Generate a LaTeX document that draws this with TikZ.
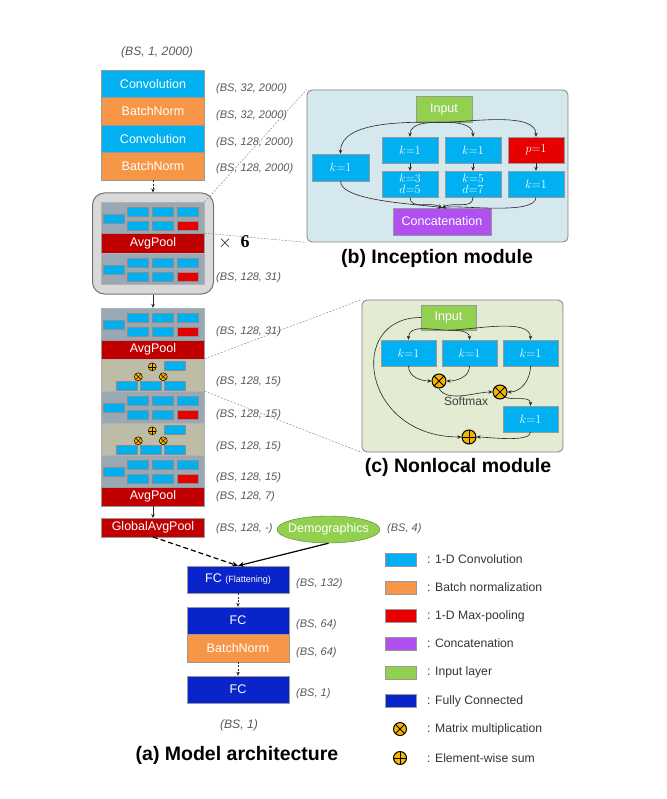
\documentclass[tikz,border=0pt]{standalone}
\usepackage[no-math]{fontspec}
\setmainfont{Liberation Sans}
\newfontfamily\serifsix{Liberation Serif}
\usetikzlibrary{shapes.geometric,arrows.meta,positioning,calc}
\definecolor{convc}{HTML}{00B0F0}
\definecolor{bnc}{HTML}{F79646}
\definecolor{poolc}{HTML}{C00000}
\definecolor{maxc}{HTML}{E60000}
\definecolor{catc}{HTML}{B050F0}
\definecolor{inc}{HTML}{92D050}
\definecolor{fcc}{HTML}{0A24CC}
\definecolor{panb}{HTML}{D5E8EE}
\definecolor{panc}{HTML}{E3EBD2}
\definecolor{repc}{HTML}{D9D9D9}
\definecolor{incg}{HTML}{98A8B5}
\definecolor{nlg}{HTML}{BDBCA6}
\definecolor{opc}{HTML}{F5B400}
\definecolor{shpc}{HTML}{595959}

\newcommand{\mulmark}[2]{%
  \draw[fill=opc, line width=0.5pt] #1 circle (#2);
  \draw[line width=0.5pt] #1 +(-0.7*#2,-0.7*#2) -- +(0.7*#2,0.7*#2) +(-0.7*#2,0.7*#2) -- +(0.7*#2,-0.7*#2);}
\newcommand{\addmark}[2]{%
  \draw[fill=opc, line width=0.5pt] #1 circle (#2);
  \draw[line width=0.5pt] #1 +(-#2,0) -- +(#2,0) +(0,-#2) -- +(0,#2);}
% cells inside a small inception / nonlocal block
\newcommand{\incparts}[1]{%
  \begin{scope}[shift={(#1.north west)}]
    \path[minicell] (2,-12) rectangle (23,-21);
    \path[minicell] (26,-5) rectangle (47,-14);
    \path[minicell] (51,-5) rectangle (72,-14);
    \path[minicell] (76,-5) rectangle (97,-14);
    \path[minicell] (26,-19) rectangle (47,-28);
    \path[minicell] (51,-19) rectangle (72,-28);
    \path[minicell=maxc] (76,-19) rectangle (97,-28);
  \end{scope}}
\newcommand{\nlparts}[1]{%
  \begin{scope}[shift={(#1.north west)}]
    \path[minicell] (63,-2) rectangle (84,-11);
    \path[minicell] (15,-22) rectangle (36,-31);
    \path[minicell] (39,-22) rectangle (60,-31);
    \path[minicell] (63,-22) rectangle (84,-31);
    \addmark{(51,-8)}{4pt}
    \mulmark{(37,-18)}{4pt}
    \mulmark{(62,-18)}{4pt}
  \end{scope}}

\begin{document}
\begin{tikzpicture}[x=1pt, y=1pt,
  box/.style={rectangle, draw=black!40, fill=#1, text=white, minimum width=103pt, minimum height=27.5pt, inner sep=1pt, font=\fontsize{12.5}{14}\selectfont},
  bar/.style={box=poolc, minimum height=19.5pt},
  cell/.style={rectangle, draw=black!40, fill=#1, text=white, minimum width=56pt, minimum height=26pt, inner sep=1pt, align=center, font=\fontsize{12.5}{11}\selectfont},
  shp/.style={anchor=west, inner sep=0pt, text=shpc, font=\fontsize{11}{12}\selectfont\itshape},
  bigshp/.style={shp, anchor=center, font=\fontsize{12.2}{14}\selectfont\itshape},
  ttl/.style={inner sep=0pt, font=\fontsize{19.5}{22}\selectfont\bfseries},
  panel/.style={rectangle, draw=black!50, fill=#1, rounded corners=5pt, line width=0.8pt},
  swatch/.style={rectangle, draw=black!40, fill=#1, minimum width=31pt, minimum height=13pt, inner sep=0pt},
  legtxt/.style={anchor=west, inner sep=0pt, text=black!80, font=\fontsize{12.2}{14}\selectfont},
  minicell/.style={draw=black!45, line width=0.4pt, fill=#1},
  minicell/.default=convc,
  incmini/.style={rectangle, draw=black!30, fill=incg, minimum width=103pt, minimum height=32pt, inner sep=0pt},
  nlmini/.style={rectangle, draw=black!30, fill=nlg, minimum width=103pt, minimum height=32pt, inner sep=0pt},
  mulop/.style={circle, draw, line width=1pt, fill=opc, minimum size=#1, inner sep=0pt,
    path picture={\draw[line width=1pt] (path picture bounding box.north west) -- (path picture bounding box.south east)
      (path picture bounding box.north east) -- (path picture bounding box.south west);}},
  sumop/.style={circle, draw, line width=1pt, fill=opc, minimum size=#1, inner sep=0pt,
    path picture={\draw[line width=1pt] (path picture bounding box.north) -- (path picture bounding box.south)
      (path picture bounding box.west) -- (path picture bounding box.east);}},
  arr/.style={-{Stealth[length=4pt,width=3.5pt]}, black!85, line width=0.6pt},
  darr/.style={arr, dash pattern=on 2pt off 1.5pt},
  fat/.style={-{Stealth[length=6pt,width=5pt]}, black, line width=1.2pt},
  zoomln/.style={black!45, line width=0.5pt, dash pattern=on 2pt off 1.5pt}
]
  \useasboundingbox (0,0) rectangle (666,-799);

  % (a) model architecture
  \node[bigshp] (s0) at (157,-52) {(BS, 1, 2000)};
  \node[box=convc] (conv1) at (153,-83.75) {Convolution};
  \node[box=bnc] (bn1) at (153,-111.25) {BatchNorm};
  \node[box=convc] (conv2) at (153,-138.75) {Convolution};
  \node[box=bnc] (bn2) at (153,-166.25) {BatchNorm};
  \node[shp] (s1) at (216,-89) {(BS, 32, 2000)};
  \node[shp] (s2) at (216,-116) {(BS, 32, 2000)};
  \node[shp] (s3) at (216,-143) {(BS, 128, 2000)};
  \node[shp] (s4) at (216,-169) {(BS, 128, 2000)};

  \node[rectangle, rounded corners=12pt, draw=black!55, fill=repc, line width=1pt, minimum width=121pt, minimum height=101pt] (rep) at (153,-243.5) {};
  \node[incmini, minimum height=31pt] (rinc1) at (153,-217.5) {};
  \node[bar, minimum height=20pt] (rpool) at (153,-243) {AvgPool};
  \node[incmini, minimum height=31pt] (rinc2) at (153,-268.5) {};
  \incparts{rinc1}
  \incparts{rinc2}
  \node[inner sep=0pt, font=\fontsize{18}{20}\selectfont] (times) at (234,-242) {$\times$\enspace{\serifsix\bfseries 6}};
  \node[shp] (s5) at (216,-278) {(BS, 128, 31)};

  \node[incmini] (inc1) at (153,-324) {};
  \node[bar, minimum height=19pt] (pool2) at (153,-349.5) {AvgPool};
  \node[nlmini] (nl1) at (153,-375) {};
  \node[incmini] (inc2) at (153,-407) {};
  \node[nlmini] (nl2) at (153,-439) {};
  \node[incmini] (inc3) at (153,-471) {};
  \node[bar, minimum height=19pt] (pool3) at (153,-496.5) {AvgPool};
  \node[bar, minimum height=18.5pt] (gap) at (153,-527.5) {GlobalAvgPool};
  \incparts{inc1}
  \incparts{inc2}
  \incparts{inc3}
  \nlparts{nl1}
  \nlparts{nl2}
  \node[shp] (s6) at (216,-332) {(BS, 128, 31)};
  \node[shp] (s7) at (216,-382) {(BS, 128, 15)};
  \node[shp] (s8) at (216,-415) {(BS, 128, 15)};
  \node[shp] (s9) at (216,-447) {(BS, 128, 15)};
  \node[shp] (s10) at (216,-478) {(BS, 128, 15)};
  \node[shp] (s11) at (216,-497) {(BS, 128, 7)};
  \node[shp] (s12) at (216,-529) {(BS, 128, -)};

  \node[ellipse, draw=inc!60!black, fill=inc, text=white, inner xsep=-8pt, inner ysep=2pt, minimum width=103pt, minimum height=27pt, font=\fontsize{12.5}{14}\selectfont] (demo) at (328.5,-529.5) {Demographics};
  \node[shp] (s13) at (387,-529) {(BS, 4)};

  \node[box=fcc, minimum width=102pt, minimum height=27pt] (fc1) at (238,-579.5) {FC {\fontsize{9}{10}\selectfont (Flattening)}};
  \node[box=fcc, minimum width=102pt, minimum height=27pt] (fc2) at (238,-620.5) {FC};
  \node[box=bnc, minimum width=102pt, minimum height=27.5pt] (bn3) at (238,-648) {BatchNorm};
  \node[box=fcc, minimum width=102pt, minimum height=27pt] (fc3) at (238,-689.5) {FC};
  \node[shp] (s14) at (296,-584) {(BS, 132)};
  \node[shp] (s15) at (296,-625) {(BS, 64)};
  \node[shp] (s16) at (296,-653) {(BS, 64)};
  \node[shp] (s17) at (296,-694) {(BS, 1)};
  \node[bigshp] (s18) at (239,-725) {(BS, 1)};
  \node[ttl] (ttlA) at (237,-755) {(a) Model architecture};

  \draw[darr] (bn2) -- (rep);
  \draw[arr] (rep) -- (inc1);
  \draw[arr] (pool3) -- (gap);
  \draw[fat, dash pattern=on 5pt off 3pt] (gap.south) -- (fc1.north);
  \draw[fat] (demo.south) -- (fc1.north);
  \draw[darr] (fc1) -- (fc2);
  \draw[darr] (bn3) -- (fc3);

  % (b) inception module
  \node[panel=panb, minimum width=261pt, minimum height=152pt] (panB) at (437.5,-166) {};
  \node[cell=inc] (inB) at (444,-109) {Input};
  \node[cell=convc, minimum width=57pt, minimum height=27pt] (b1) at (340.5,-167.5) {$k{=}1$};
  \node[cell=convc] (b2) at (410,-150) {$k{=}1$};
  \node[cell=convc] (b2d) at (410,-184) {$k{=}3$\\$d{=}5$};
  \node[cell=convc] (b3) at (473,-150) {$k{=}1$};
  \node[cell=convc] (b3d) at (473,-184) {$k{=}5$\\$d{=}7$};
  \node[cell=maxc] (b4) at (536,-150) {$p{=}1$};
  \node[cell=convc] (b4d) at (536,-184) {$k{=}1$};
  \node[cell=catc, minimum width=98pt, minimum height=27pt] (cat) at (442,-221.5) {Concatenation};
  \node[ttl] (ttlB) at (437,-258) {(b) Inception module};

  \draw[arr] (inB.south) to[out=180,in=90,looseness=0.8] (b1.north);
  \draw[arr] (inB.south) to[out=180,in=90] (b2.north);
  \draw[arr] (inB.south) to[out=0,in=90] (b3.north);
  \draw[arr] (inB.south) to[out=0,in=90,looseness=0.7] (b4.north);
  \draw[arr] (b2) -- (b2d);
  \draw[arr] (b3) -- (b3d);
  \draw[arr] (b4) -- (b4d);
  \draw[arr] (b1.south) to[out=-90,in=170,looseness=0.5] (cat.north);
  \draw[arr] (b2d.south) to[out=-90,in=150] (cat.north);
  \draw[arr] (b3d.south) to[out=-90,in=30] (cat.north);
  \draw[arr] (b4d.south) to[out=-90,in=10,looseness=0.5] (cat.north);

  % (c) nonlocal module
  \node[panel=panc, minimum width=201pt, minimum height=152pt] (panC) at (462.5,-376) {};
  \node[cell=inc, minimum width=55pt, minimum height=25pt] (inC) at (448.5,-317.5) {Input};
  \node[cell=convc, minimum width=55pt] (c1) at (408.5,-353) {$k{=}1$};
  \node[cell=convc, minimum width=55pt] (c2) at (469.5,-353) {$k{=}1$};
  \node[cell=convc, minimum width=55pt] (c3) at (530.5,-353) {$k{=}1$};
  \node[mulop=14pt] (mul1) at (439,-381) {};
  \node[mulop=14pt] (mul2) at (500,-392) {};
  \node[inner sep=0pt, text=black!75, font=\fontsize{12}{14}\selectfont] (soft) at (466,-401) {Softmax};
  \node[cell=convc, minimum width=55pt] (c4) at (530.5,-419) {$k{=}1$};
  \node[sumop=14pt] (sum1) at (469,-437) {};
  \node[ttl] (ttlC) at (458,-467) {(c) Nonlocal module};

  \draw[arr] (inC.south) to[out=180,in=90] (c1.north);
  \draw[arr] (inC.south) to[out=0,in=90] (c2.north);
  \draw[arr] (inC.south) to[out=0,in=90,looseness=0.7] (c3.north);
  \draw[arr] (c1.south) to[out=-90,in=180] (mul1.west);
  \draw[arr] (c2.south) to[out=-90,in=0] (mul1.east);
  \draw[arr] (mul1.south) to[out=-60,in=180,looseness=0.8] (mul2.west);
  \draw[arr] (c3.south) to[out=-90,in=0] (mul2.east);
  \draw[arr] (mul2.south east) to[out=-20,in=90] (c4.north);
  \draw[arr] (c4.south) to[out=-90,in=0,looseness=0.5] (sum1.east);
  \draw[arr] (inC.west) .. controls +(-75,0) and +(-100,0) .. (sum1.west);

  % zoom lines
  \draw[zoomln] (rinc1.north east) -- (panB.north west);
  \draw[zoomln] (rinc1.south east) -- (panB.south west);
  \draw[zoomln] (nl1.north east) -- (panC.north west);
  \draw[zoomln] (nl1.south east) -- (panC.south west);

  % legend
  \node[swatch=convc] (l1) at (400.5,-559.5) {};
  \node[swatch=bnc] (l2) at (400.5,-587.5) {};
  \node[swatch=maxc] (l3) at (400.5,-616) {};
  \node[swatch=catc] (l4) at (400.5,-643.5) {};
  \node[swatch=inc] (l5) at (400.5,-672.5) {};
  \node[swatch=fcc] (l6) at (400.5,-701) {};
  \node[mulop=13pt] (l7) at (400,-729) {};
  \node[sumop=13pt] (l8) at (400,-758) {};
  \node[legtxt] (t1) at (427,-559.5) {: 1-D Convolution};
  \node[legtxt] (t2) at (427,-587.5) {: Batch normalization};
  \node[legtxt] (t3) at (427,-616) {: 1-D Max-pooling};
  \node[legtxt] (t4) at (427,-643.5) {: Concatenation};
  \node[legtxt] (t5) at (427,-672.5) {: Input layer};
  \node[legtxt] (t6) at (427,-701) {: Fully Connected};
  \node[legtxt] (t7) at (427,-729) {: Matrix multiplication};
  \node[legtxt] (t8) at (427,-758) {: Element-wise sum};
\end{tikzpicture}
\end{document}
